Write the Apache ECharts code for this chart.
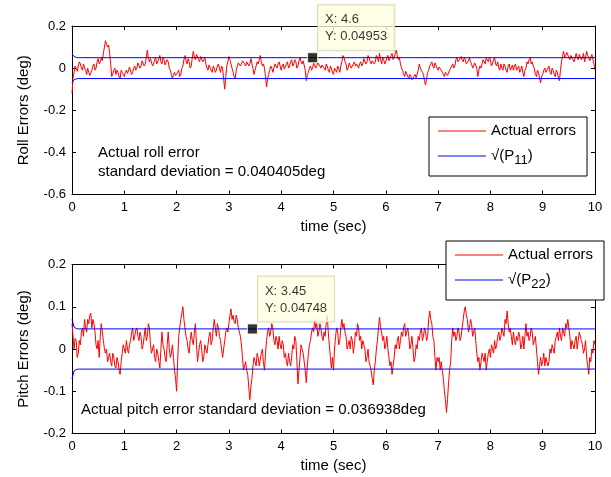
<!DOCTYPE html>
<html>
<head>
<meta charset="utf-8">
<script src="https://cdn.jsdelivr.net/npm/echarts@6/dist/echarts.min.js"></script>
<style>
html,body{margin:0;padding:0;background:#fff;}
#chart{width:611px;height:477px;}
</style>
</head>
<body>
<div id="chart"></div>
<script>
// sample spacing of the error records (sec)
const dt = 0.02;

// Roll error (deg), one value every 0.02 s from 0 to 10 s (one row per second)
const rollErr = [
-0.12,-0.05,-0.02,0.01,0.00,-0.015,0.01,0.03,0.02,0.00,-0.01,0.02,0.00,-0.01,-0.03,0.00,-0.02,-0.035,-0.04,-0.01,0.01,0.02,-0.01,0.00,0.03,0.045,0.02,0.03,0.05,0.035,0.07,0.10,0.13,0.115,0.10,0.11,0.07,0.02,-0.04,-0.025,-0.01,0.00,-0.03,-0.01,-0.02,-0.04,-0.05,-0.01,-0.02,-0.03,
-0.04,-0.02,-0.01,-0.025,-0.03,0.005,0.00,-0.03,-0.02,0.00,0.01,-0.01,0.00,0.025,0.02,0.00,0.01,0.035,0.03,0.01,0.02,0.05,0.085,0.05,0.03,0.045,0.04,0.01,0.02,0.04,0.05,0.02,0.03,0.045,0.06,0.03,0.02,0.05,0.04,0.015,0.01,0.04,0.03,0.00,-0.01,-0.03,-0.05,-0.03,-0.02,-0.035,
-0.04,-0.02,-0.01,-0.04,-0.03,0.00,0.01,0.04,0.06,0.035,0.02,0.045,0.03,0.00,0.01,0.05,0.08,0.05,0.04,0.065,0.06,0.04,0.03,0.055,0.05,0.03,0.04,0.05,0.02,0.00,-0.01,0.015,0.01,-0.01,-0.02,0.01,0.00,-0.02,-0.01,0.01,0.02,0.00,-0.02,0.01,0.00,-0.05,-0.10,-0.04,0.01,0.03,
0.055,0.04,0.02,0.00,-0.02,-0.04,-0.05,-0.01,0.01,0.025,0.03,0.01,0.02,0.035,0.04,0.02,0.01,0.03,0.03,0.01,0.02,0.045,0.04,0.00,-0.03,-0.01,0.01,0.03,0.02,0.04,0.06,0.03,0.01,0.02,0.00,-0.04,-0.09,-0.05,-0.03,-0.01,0.01,0.00,-0.02,0.00,0.02,0.01,0.00,0.02,0.03,0.01,
-0.01,0.01,0.02,-0.005,0.00,0.02,0.03,0.00,0.01,0.03,0.04,0.01,0.02,0.04,0.03,0.00,0.01,0.035,0.05,0.03,0.02,0.035,0.04,-0.01,-0.06,-0.03,-0.02,0.00,0.01,-0.01,0.00,0.025,0.02,0.00,0.01,0.025,0.03,0.01,0.00,0.015,0.02,0.00,-0.01,0.02,0.01,-0.01,-0.02,0.01,0.00,-0.02,
-0.03,0.00,-0.01,-0.02,0.01,0.00,-0.02,0.01,0.03,0.06,0.05,0.03,0.02,-0.01,0.00,0.025,0.02,0.00,0.01,0.02,0.03,0.01,0.02,0.01,0.00,0.02,0.03,0.01,0.02,0.045,0.04,0.02,0.03,0.06,0.05,0.03,0.02,0.035,0.04,0.02,0.03,0.06,0.05,0.03,0.07,0.04,0.02,0.05,0.04,0.02,
0.03,0.05,0.06,0.035,0.04,0.06,0.07,0.04,0.05,0.07,0.086,0.06,0.04,0.05,0.02,0.00,-0.01,-0.03,-0.04,-0.015,-0.02,-0.04,-0.05,-0.03,-0.04,-0.055,-0.06,-0.04,-0.03,-0.045,-0.05,-0.01,0.02,0.00,-0.01,-0.02,-0.03,-0.06,-0.08,-0.05,-0.02,-0.01,0.01,0.02,0.03,0.01,0.00,0.025,0.02,0.00,
-0.01,0.005,0.01,-0.01,-0.02,-0.03,-0.04,-0.02,-0.02,-0.035,-0.04,-0.01,0.00,0.01,0.02,0.00,0.01,0.04,0.05,0.03,0.03,0.045,0.055,0.04,0.03,0.05,0.04,0.02,0.02,0.035,0.05,0.03,0.02,0.00,0.01,0.025,0.03,0.00,-0.04,-0.01,0.01,0.00,0.02,0.04,0.03,0.02,0.05,0.04,0.03,0.05,
0.04,0.01,0.02,0.04,0.05,0.02,0.01,0.03,0.00,-0.01,0.02,0.00,-0.01,0.02,0.01,-0.01,-0.02,0.01,0.02,-0.01,0.00,0.015,-0.01,0.01,0.02,-0.01,0.00,0.01,-0.02,-0.01,0.01,-0.02,-0.04,-0.01,0.00,0.03,0.02,0.04,0.05,0.02,0.03,0.01,0.00,-0.03,-0.04,-0.01,-0.02,-0.05,-0.07,-0.04,
-0.03,-0.01,0.00,-0.02,-0.02,0.00,0.01,-0.02,-0.03,0.00,-0.01,-0.03,-0.04,-0.01,-0.02,-0.045,-0.06,-0.01,0.03,0.06,0.08,0.05,0.06,0.075,0.07,0.05,0.04,0.06,0.06,0.04,0.03,0.05,0.07,0.05,0.04,0.065,0.06,0.04,0.05,0.07,0.03,0.05,0.08,0.06,0.05,0.035,0.04,0.065,0.06,0.02,
-0.01
];

// Pitch error (deg), one value every 0.02 s from 0 to 10 s (one row per second)
const pitchErr = [
0.06,0.03,0.00,0.025,0.02,-0.02,-0.01,0.02,0.01,0.04,0.05,0.03,0.07,0.05,0.04,0.07,0.06,0.08,0.085,0.05,0.07,0.06,0.04,0.01,0.00,0.02,-0.02,0.03,0.06,0.04,0.02,0.00,-0.01,0.00,-0.03,-0.02,-0.01,-0.03,-0.04,-0.01,-0.02,-0.04,-0.045,-0.02,-0.03,-0.05,-0.06,-0.03,-0.01,0.01,
0.00,-0.01,0.02,0.00,-0.01,0.01,0.02,0.04,0.05,0.02,0.03,0.045,0.05,0.03,0.02,0.04,0.03,0.00,0.01,0.03,0.05,0.02,0.03,0.06,0.05,0.01,-0.01,0.00,0.01,-0.02,-0.03,0.00,-0.01,-0.03,-0.045,0.00,0.04,0.01,0.00,-0.02,-0.03,0.01,0.04,0.00,-0.02,-0.01,0.01,-0.02,-0.05,-0.07,
-0.10,-0.03,0.03,0.05,0.07,0.085,0.10,0.07,0.05,0.03,0.02,0.00,-0.01,0.02,0.04,0.02,0.01,0.04,0.06,0.01,-0.03,-0.01,0.01,0.02,0.00,-0.03,-0.02,0.01,0.00,-0.01,0.01,0.03,0.04,0.01,0.02,0.05,0.07,0.05,0.03,0.06,0.05,0.03,0.02,0.00,-0.02,0.00,0.02,0.04,0.05,0.04,
0.06,0.08,0.095,0.07,0.08,0.065,0.06,0.08,0.07,0.05,0.04,0.03,0.01,-0.02,-0.05,-0.04,-0.03,-0.05,-0.06,-0.09,-0.12,-0.09,-0.07,-0.04,-0.02,-0.03,-0.04,-0.01,-0.02,-0.04,-0.04,-0.01,0.00,-0.03,-0.05,-0.01,0.02,0.04,0.05,0.03,0.04,0.06,0.05,0.02,0.01,0.03,0.02,0.00,0.03,0.01,
0.00,0.02,0.01,-0.02,-0.01,-0.03,-0.04,-0.01,-0.03,-0.04,-0.02,0.01,0.00,0.03,0.02,-0.03,-0.083,-0.05,-0.02,0.01,0.00,-0.01,-0.03,-0.05,-0.08,-0.04,-0.01,0.01,0.02,0.04,0.05,0.04,0.07,0.05,0.06,0.03,0.04,0.06,0.05,0.03,0.02,0.04,0.03,0.06,0.08,0.04,0.01,-0.02,-0.045,-0.02,
-0.05,0.00,0.03,0.05,0.04,0.01,0.02,0.05,0.07,0.05,0.06,0.04,0.03,0.00,0.01,0.02,0.00,0.03,0.02,-0.01,0.01,0.04,0.03,0.06,0.05,0.02,0.03,0.00,0.02,0.01,0.00,-0.03,-0.02,0.00,-0.03,-0.04,-0.05,-0.07,-0.085,-0.05,-0.03,0.00,0.02,0.05,0.075,0.05,0.04,0.02,0.03,0.00,
0.01,0.03,0.00,-0.02,-0.04,-0.03,-0.06,-0.04,-0.02,0.01,0.00,0.02,0.03,0.00,0.02,0.04,0.03,0.05,0.06,0.03,0.04,0.05,0.03,0.00,0.01,0.03,0.00,-0.03,-0.02,0.01,0.00,0.03,0.02,0.04,0.05,0.02,0.03,0.05,0.04,0.02,0.03,0.07,0.09,0.07,0.06,0.03,0.02,-0.02,-0.05,-0.02,
-0.03,-0.02,-0.05,-0.03,-0.05,-0.07,-0.10,-0.12,-0.15,-0.12,-0.08,-0.05,-0.03,0.02,0.05,0.03,0.04,0.02,0.03,0.05,0.04,0.02,0.03,0.05,0.07,0.09,0.10,0.08,0.07,0.04,0.05,0.07,0.06,0.03,0.04,0.05,0.02,-0.01,-0.03,-0.02,-0.05,-0.03,-0.01,-0.02,-0.03,-0.01,-0.05,-0.03,-0.01,0.00,
-0.02,0.01,0.00,-0.01,0.02,0.00,0.01,0.03,0.04,0.02,0.03,0.05,0.05,0.03,0.07,0.06,0.09,0.06,0.04,0.05,0.03,0.01,0.04,0.02,0.01,0.03,0.02,0.04,0.03,0.00,0.01,0.03,0.00,0.03,0.06,0.03,0.04,0.02,0.03,0.05,0.04,0.01,0.02,0.03,0.00,-0.03,-0.06,-0.04,-0.02,-0.04,
-0.03,-0.01,-0.04,-0.02,-0.02,-0.04,-0.03,0.00,-0.01,0.01,0.00,-0.01,0.02,0.03,0.04,0.02,0.05,0.03,0.02,0.05,0.04,0.03,0.06,0.05,0.07,0.05,0.03,0.00,0.02,0.01,0.00,0.02,0.03,0.00,0.02,0.04,0.04,0.02,0.01,-0.01,0.00,0.02,-0.02,-0.04,-0.06,-0.02,-0.03,0.00,-0.01,0.02,
0.01
];

// sqrt(P11) and sqrt(P22) (deg): time, value
const sqrtP11Time = [0, 0.04, 0.08, 0.12, 10];
const sqrtP11Val  = [0.068, 0.055, 0.051, 0.0496, 0.04953];
const sqrtP22Time = [0, 0.04, 0.08, 0.12, 10];
const sqrtP22Val  = [0.07, 0.052, 0.0485, 0.0476, 0.04748];

// data tips
const tipRoll  = [4.6, 0.04953];
const tipPitch = [3.45, 0.04748];

// axis ticks
const xTicks = [0, 10, 1];
const rollTicks = [-0.6, 0.2, 0.2];
const pitchTicks = [-0.2, 0.2, 0.1];

const FONT = 'Liberation Sans, Arial, Helvetica, sans-serif';

const series = (vals) => vals.map((v, i) => [+(i * dt).toFixed(2), v]);
const pairs = (ts, vs, s) => ts.map((t, i) => [t, s * vs[i]]);

const chart = echarts.init(document.getElementById('chart'), null, {renderer: 'canvas'});

function xAxes(gi) {
  const base = {
    gridIndex: gi, type: 'value', min: xTicks[0], max: xTicks[1], interval: xTicks[2],
    axisLine: {onZero: false, lineStyle: {color: '#000', width: 1}},
    axisTick: {inside: true, length: 4, lineStyle: {color: '#000'}},
    splitLine: {show: false}
  };
  return [
    Object.assign({}, base, {
      position: 'bottom',
      axisLabel: {color: '#000', fontSize: 13, fontFamily: FONT, margin: 6},
      name: 'time (sec)', nameLocation: 'middle', nameGap: 25,
      nameTextStyle: {color: '#000', fontSize: 15, fontFamily: FONT}
    }),
    Object.assign({}, base, {position: 'top', axisLabel: {show: false}})
  ];
}
function yAxes(gi, ticks, name) {
  const base = {
    gridIndex: gi, type: 'value', min: ticks[0], max: ticks[1], interval: ticks[2],
    axisLine: {show: true, onZero: false, lineStyle: {color: '#000', width: 1}},
    axisTick: {show: true, inside: true, length: 4, lineStyle: {color: '#000'}},
    splitLine: {show: false}
  };
  return [
    Object.assign({}, base, {
      position: 'left',
      axisLabel: {color: '#000', fontSize: 13, fontFamily: FONT, margin: 6},
      name: name, nameLocation: 'middle', nameGap: 41,
      nameTextStyle: {color: '#000', fontSize: 15, fontFamily: FONT}
    }),
    Object.assign({}, base, {position: 'right', axisLabel: {show: false}})
  ];
}

function tipSeries(xi, yi, tip) {
  return {
    type: 'scatter', xAxisIndex: xi, yAxisIndex: yi, z: 10,
    symbol: 'rect', symbolSize: 10,
    itemStyle: {color: '#000', borderColor: '#ffffe1', borderWidth: 1},
    data: [tip], silent: true,
    label: {
      show: true, position: [11, -47], align: 'left', verticalAlign: 'top',
      formatter: 'X: ' + tip[0] + '\nY: ' + tip[1],
      backgroundColor: '#ffffe1', borderColor: '#cfcfae', borderWidth: 1,
      padding: [6, 7, 5, 7], color: '#000', fontSize: 13, lineHeight: 17, fontFamily: FONT
    }
  };
}

function legend(left, top, blueName, sub) {
  return {
    left: left, top: top, orient: 'vertical',
    data: ['Actual errors', blueName],
    icon: 'rect', itemWidth: 48, itemHeight: 1,
    itemGap: 5, padding: [5, 11, 9, 9],
    borderColor: '#000', borderWidth: 1, backgroundColor: '#fff',
    selectedMode: false,
    formatter: function (n) { return n === blueName ? '√(P{sub|' + sub + '})' : n; },
    textStyle: {
      color: '#000', fontSize: 15, fontFamily: FONT, lineHeight: 18,
      rich: {sub: {fontSize: 13, fontFamily: FONT, lineHeight: 22, verticalAlign: 'bottom', color: '#000'}}
    }
  };
}

const option = {
  backgroundColor: '#fff',
  animation: false,
  grid: [
    {left: 72, top: 26, width: 523, height: 168.5},
    {left: 72, top: 264.5, width: 523, height: 169}
  ],
  xAxis: [].concat(xAxes(0), xAxes(1)),
  yAxis: [].concat(yAxes(0, rollTicks, 'Roll Errors (deg)'), yAxes(1, pitchTicks, 'Pitch Errors (deg)')),
  legend: [legend(429, 117, 'sqrtP11', '11'), legend(446, 241, 'sqrtP22', '22')],
  series: [
    {name: 'Actual errors', type: 'line', xAxisIndex: 0, yAxisIndex: 0, data: series(rollErr),
     showSymbol: false, symbol: 'none', lineStyle: {color: '#ff0000', width: 1}, itemStyle: {color: '#ff0000'}},
    {name: 'sqrtP11', type: 'line', xAxisIndex: 0, yAxisIndex: 0, data: pairs(sqrtP11Time, sqrtP11Val, 1),
     showSymbol: false, symbol: 'none', lineStyle: {color: '#0000ff', width: 1}, itemStyle: {color: '#0000ff'}},
    {name: 'sqrtP11', type: 'line', xAxisIndex: 0, yAxisIndex: 0, data: pairs(sqrtP11Time, sqrtP11Val, -1),
     showSymbol: false, symbol: 'none', lineStyle: {color: '#0000ff', width: 1}, itemStyle: {color: '#0000ff'}},
    tipSeries(0, 0, tipRoll),
    {name: 'Actual errors', type: 'line', xAxisIndex: 2, yAxisIndex: 2, data: series(pitchErr),
     showSymbol: false, symbol: 'none', lineStyle: {color: '#ff0000', width: 1}, itemStyle: {color: '#ff0000'}},
    {name: 'sqrtP22', type: 'line', xAxisIndex: 2, yAxisIndex: 2, data: pairs(sqrtP22Time, sqrtP22Val, 1),
     showSymbol: false, symbol: 'none', lineStyle: {color: '#0000ff', width: 1}, itemStyle: {color: '#0000ff'}},
    {name: 'sqrtP22', type: 'line', xAxisIndex: 2, yAxisIndex: 2, data: pairs(sqrtP22Time, sqrtP22Val, -1),
     showSymbol: false, symbol: 'none', lineStyle: {color: '#0000ff', width: 1}, itemStyle: {color: '#0000ff'}},
    tipSeries(2, 2, tipPitch)
  ],
  graphic: [
    {type: 'text', left: 98, top: 143.5, z: 20,
     style: {text: 'Actual roll error\nstandard deviation = 0.040405deg', fill: '#000',
             font: '15px ' + FONT, lineHeight: 19}},
    {type: 'text', left: 81, top: 400.5, z: 20,
     style: {text: 'Actual pitch error standard deviation = 0.036938deg', fill: '#000',
             font: '15px ' + FONT, lineHeight: 19}}
  ]
};
chart.setOption(option);
</script>
</body>
</html>
